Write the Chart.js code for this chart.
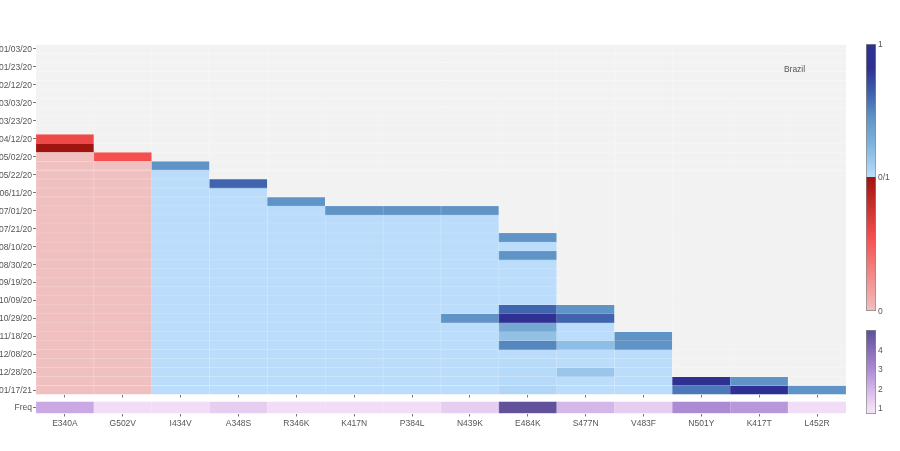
<!DOCTYPE html>
<html>
<head>
<meta charset="utf-8">
<script src="https://cdn.jsdelivr.net/npm/chart.js@4"></script>
<style>
  html, body { margin: 0; padding: 0; background: #fff; }
  canvas { position: absolute; left: 0; top: 0; }
</style>
</head>
<body>
<canvas id="mainChart" width="900" height="451"></canvas>
<canvas id="freqChart" width="900" height="451"></canvas>
<canvas id="scoreBar" width="900" height="451"></canvas>
<canvas id="freqBar" width="900" height="451"></canvas>
<script>
const mutations = ['E340A','G502V','I434V','A348S','R346K','K417N','P384L','N439K','E484K','S477N','V483F','N501Y','K417T','L452R'];
const dates = ['01/03/20','01/23/20','02/12/20','03/03/20','03/23/20','04/12/20','05/02/20','05/22/20','06/11/20','07/01/20','07/21/20','08/10/20','08/30/20','09/19/20','10/09/20','10/29/20','11/18/20','12/08/20','12/28/20','01/17/21'];
const freq = [2.3,1.05,1.05,1.4,1.05,1.05,1.05,1.4,4.9,1.95,1.4,3.0,2.7,1.05];

// one value per 10 day row, null = no data
const E340A = [null,null,null,null,null,null,null,null,null,null,0.6,1,0,0,0,0,0,0,0,0,0,0,0,0,0,0,0,0,0,0,0,0,0,0,0,0,0,0,0];
const G502V = [null,null,null,null,null,null,null,null,null,null,null,null,0.55,0,0,0,0,0,0,0,0,0,0,0,0,0,0,0,0,0,0,0,0,0,0,0,0,0,0];
const I434V = [null,null,null,null,null,null,null,null,null,null,null,null,null,0.45,0,0,0,0,0,0,0,0,0,0,0,0,0,0,0,0,0,0,0,0,0,0,0,0,0];
const A348S = [null,null,null,null,null,null,null,null,null,null,null,null,null,null,null,0.62,0,0,0,0,0,0,0,0,0,0,0,0,0,0,0,0,0,0,0,0,0,0,0];
const R346K = [null,null,null,null,null,null,null,null,null,null,null,null,null,null,null,null,null,0.45,0,0,0,0,0,0,0,0,0,0,0,0,0,0,0,0,0,0,0,0,0];
const K417N = [null,null,null,null,null,null,null,null,null,null,null,null,null,null,null,null,null,null,0.45,0,0,0,0,0,0,0,0,0,0,0,0,0,0,0,0,0,0,0,0];
const P384L = [null,null,null,null,null,null,null,null,null,null,null,null,null,null,null,null,null,null,0.45,0,0,0,0,0,0,0,0,0,0,0,0,0,0,0,0,0,0,0,0];
const N439K = [null,null,null,null,null,null,null,null,null,null,null,null,null,null,null,null,null,null,0.45,0,0,0,0,0,0,0,0,0,0,0,0.45,0,0,0,0,0,0,0,0];
const E484K = [null,null,null,null,null,null,null,null,null,null,null,null,null,null,null,null,null,null,null,null,null,0.45,0,0.45,0,0,0,0,0,0.62,1,0.32,0.17,0.5,0,0.01,0.02,0.02,0.04];
const S477N = [null,null,null,null,null,null,null,null,null,null,null,null,null,null,null,null,null,null,null,null,null,null,null,null,null,null,null,null,null,0.45,0.62,0,0,0.19,0,0,0.14,0,0];
const V483F = [null,null,null,null,null,null,null,null,null,null,null,null,null,null,null,null,null,null,null,null,null,null,null,null,null,null,null,null,null,null,null,null,0.45,0.45,0,0,0,0,0];
const N501Y = [null,null,null,null,null,null,null,null,null,null,null,null,null,null,null,null,null,null,null,null,null,null,null,null,null,null,null,null,null,null,null,null,null,null,null,null,null,1,0.55];
const K417T = [null,null,null,null,null,null,null,null,null,null,null,null,null,null,null,null,null,null,null,null,null,null,null,null,null,null,null,null,null,null,null,null,null,null,null,null,null,0.45,1];
const L452R = [null,null,null,null,null,null,null,null,null,null,null,null,null,null,null,null,null,null,null,null,null,null,null,null,null,null,null,null,null,null,null,null,null,null,null,null,null,null,0.45];
const columns = [E340A,G502V,I434V,A348S,R346K,K417N,P384L,N439K,E484K,S477N,V483F,N501Y,K417T,L452R];
const redColumns = ['E340A','G502V'];

const redStops = [[0,'#f0c0c0'],[0.55,'#f5504f'],[1,'#a0140f']];
const blueStops = [[0,'#bbddfb'],[0.25,'#80b4dc'],[0.45,'#6094c6'],[0.62,'#4065ae'],[0.82,'#2e3192'],[1,'#2e3192']];
const freqStops = [[1,'#f3dff6'],[2.3,'#c9a8e4'],[3,'#ad8ad4'],[4.9,'#62519b']];
const emptyCell = '#f2f2f2';

function hex(c) {
  return [1,3,5].map(i => parseInt(c.substr(i,2),16));
}
function pick(stops, v) {
  if (v <= stops[0][0]) return hex(stops[0][1]);
  for (let i = 1; i < stops.length; i++) {
    if (v <= stops[i][0]) {
      const t = (v - stops[i-1][0]) / (stops[i][0] - stops[i-1][0]);
      const a = hex(stops[i-1][1]), b = hex(stops[i][1]);
      return a.map((x,k) => Math.round(x + (b[k]-x)*t));
    }
  }
  return hex(stops[stops.length-1][1]);
}
function css(rgb) {
  return 'rgb(' + rgb.join(',') + ')';
}
// cell edges are a little lighter than the fill
function edge(rgb) {
  return css(rgb.map(x => Math.round(x + (255 - x) * 0.3)));
}

const font = { family: '"Liberation Sans", Arial, sans-serif', size: 8.5 };
const textColor = '#555';
const markColor = '#777';

function fixed(size, key) {
  return s => {
    s[key] = size;
    s.paddingLeft = s.paddingRight = s.paddingTop = s.paddingBottom = 0;
  };
}

function cellColor(i, r) {
  const v = columns[i][r];
  if (v === null) return hex(emptyCell);
  return pick(redColumns.includes(mutations[i]) ? redStops : blueStops, v);
}

// annotation sits in data space, over the L452R column
const brazilLabel = {
  id: 'brazilLabel',
  afterDatasetsDraw(chart) {
    const c = chart.ctx;
    c.save();
    c.font = '8.5px "Liberation Sans", Arial, sans-serif';
    c.fillStyle = '#555';
    c.textAlign = 'center';
    c.textBaseline = 'middle';
    c.fillText('Brazil', chart.scales.x.getPixelForValue(12.61), chart.scales.y.getPixelForValue(2.33));
    c.restore();
  }
};

const rowDatasets = columns[0].map((_, r) => ({
  data: columns.map(() => [r - 0.5, r + 0.5]),
  backgroundColor: columns.map((col, i) => css(cellColor(i, r))),
  borderColor: columns.map((col, i) => edge(cellColor(i, r))),
  borderWidth: 0.6,
  barPercentage: 1,
  categoryPercentage: 1,
  grouped: false
}));

new Chart(document.getElementById('mainChart'), {
  type: 'bar',
  data: { labels: mutations, datasets: rowDatasets },
  options: {
    responsive: false,
    animation: false,
    layout: { padding: { left: 0, top: 44.5, right: 54, bottom: 53.5 } },
    plugins: { legend: { display: false }, tooltip: { enabled: false } },
    scales: {
      x: {
        afterFit: fixed(3, 'height'),
        ticks: { display: false },
        border: { display: false },
        grid: { offset: false, drawOnChartArea: false, tickLength: 3, color: markColor }
      },
      y: {
        reverse: true,
        min: -0.5,
        max: 38.5,
        afterFit: fixed(36, 'width'),
        afterBuildTicks: s => { s.ticks = dates.map((d, i) => ({ value: i * 2 })); },
        border: { display: false },
        grid: { drawOnChartArea: false, tickLength: 3, color: markColor },
        ticks: { autoSkip: false, font, color: textColor, padding: 1, labelOffset: 0.8, callback: v => dates[v / 2] }
      }
    }
  },
  plugins: [brazilLabel]
});

new Chart(document.getElementById('freqChart'), {
  type: 'bar',
  data: {
    labels: mutations,
    datasets: [{
      data: freq.map(() => [-0.5, 0.5]),
      backgroundColor: freq.map(f => css(pick(freqStops, f))),
      borderColor: freq.map(f => edge(pick(freqStops, f))),
      borderWidth: 0.6,
      barPercentage: 1,
      categoryPercentage: 1
    }]
  },
  options: {
    responsive: false,
    animation: false,
    layout: { padding: { left: 0, top: 401.5, right: 54, bottom: 21 } },
    plugins: { legend: { display: false }, tooltip: { enabled: false } },
    scales: {
      x: {
        afterFit: fixed(16.5, 'height'),
        border: { display: false },
        grid: { offset: false, drawOnChartArea: false, tickLength: 3, color: markColor },
        ticks: { font, color: textColor, padding: 2, maxRotation: 0 }
      },
      y: {
        min: -0.5,
        max: 0.5,
        afterFit: fixed(36, 'width'),
        afterBuildTicks: s => { s.ticks = [{ value: 0 }]; },
        border: { display: false },
        grid: { drawOnChartArea: false, tickLength: 3, color: markColor },
        ticks: { font, color: textColor, padding: 1, callback: () => 'Freq' }
      }
    }
  }
});

function colorbar(id, top, bottom, yMin, yMax, tickValues, tickText, fill) {
  new Chart(document.getElementById(id), {
    type: 'bar',
    data: {
      labels: [''],
      datasets: [{
        data: [[yMin, yMax]],
        backgroundColor: c => {
          const a = c.chart.chartArea;
          if (!a) return '#fff';
          return fill(c.chart.ctx.createLinearGradient(0, a.bottom, 0, a.top));
        },
        borderColor: '#888',
        borderWidth: 1,
        borderSkipped: false,
        barPercentage: 1,
        categoryPercentage: 1
      }]
    },
    options: {
      responsive: false,
      animation: false,
      layout: { padding: { left: 866, top: top, right: 0, bottom: 451 - bottom } },
      plugins: { legend: { display: false }, tooltip: { enabled: false } },
      scales: {
        x: { display: false },
        y: {
          position: 'right',
          min: yMin,
          max: yMax,
          afterFit: fixed(24, 'width'),
          afterBuildTicks: s => { s.ticks = tickValues.map(v => ({ value: v })); },
          border: { display: false },
          grid: { display: false, drawTicks: false, tickLength: 0 },
          ticks: { font, color: textColor, padding: 2, labelOffset: 0.5, callback: (v, i) => tickText[i] }
        }
      }
    }
  });
}

colorbar('scoreBar', 44, 311, 0, 2, [0, 1, 2], ['0', '0/1', '1'], g => {
  redStops.forEach(s => g.addColorStop(s[0] / 2, s[1]));
  blueStops.forEach(s => g.addColorStop(0.5 + s[0] / 2, s[1]));
  return g;
});
colorbar('freqBar', 330, 414, 0.7, 5.02, [1, 2, 3, 4], ['1', '2', '3', '4'], g => {
  freqStops.forEach(s => g.addColorStop((s[0] - 0.7) / 4.32, s[1]));
  return g;
});
</script>
</body>
</html>
